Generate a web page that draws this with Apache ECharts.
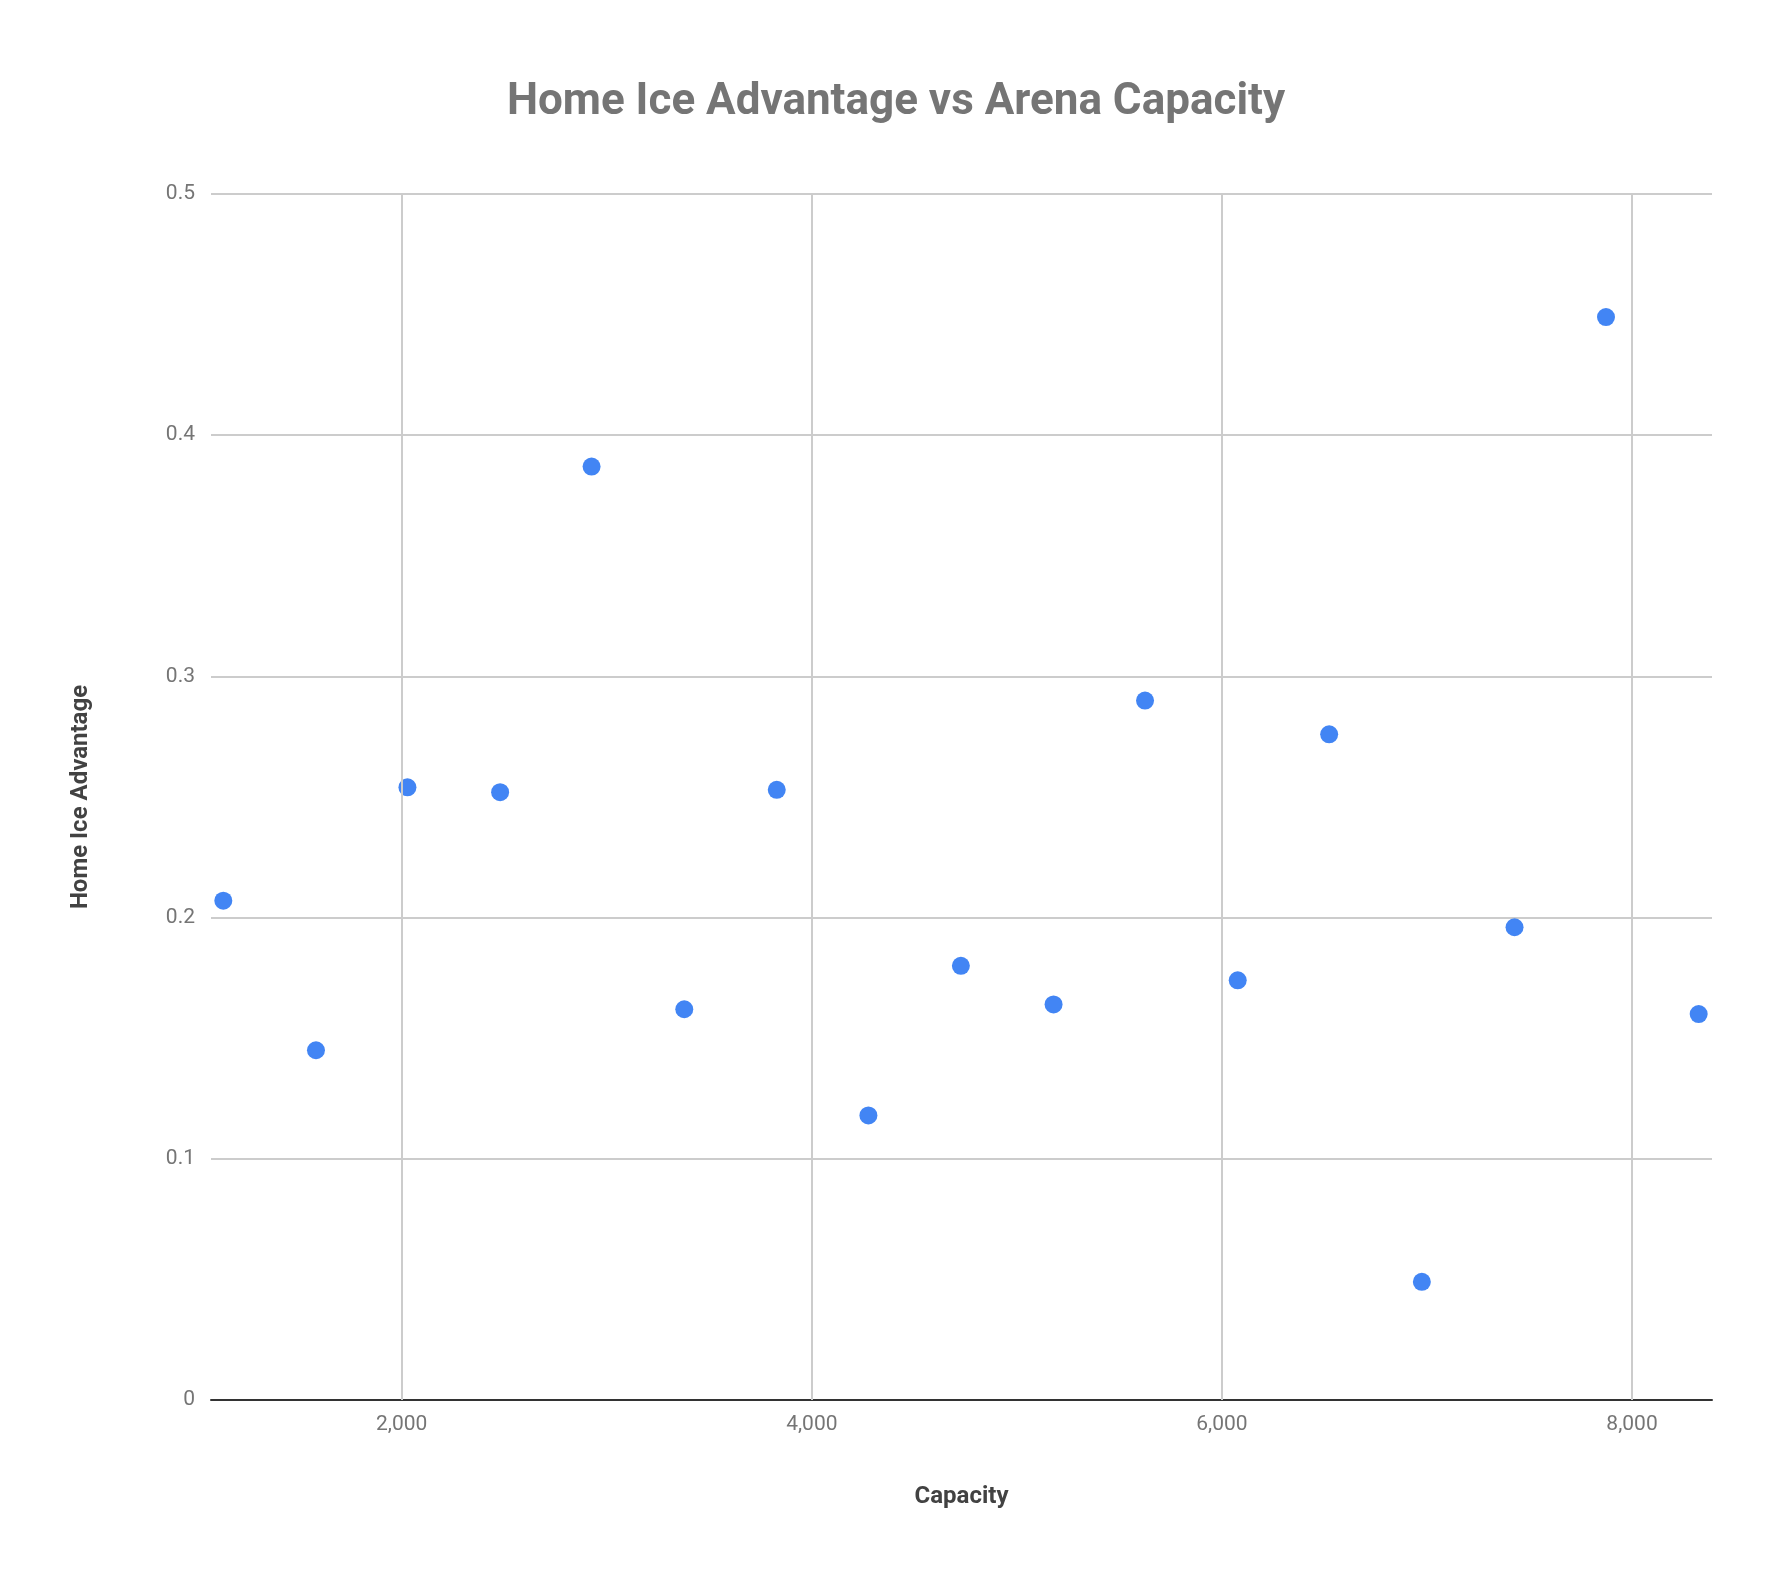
<!DOCTYPE html>
<html>
<head>
<meta charset="utf-8">
<script src="https://cdn.jsdelivr.net/npm/echarts@6/dist/echarts.min.js"></script>
<style>html,body{margin:0;background:#fff}#chart{width:1792px;height:1592px}</style>
</head>
<body>
<div id="chart"></div>
<script>
var capacity = [1130, 1582, 2028, 2480, 2926, 3378, 3829, 4276, 4727, 5179, 5625, 6077, 6523, 6975, 7427, 7873, 8325];
var advantage = [0.207, 0.145, 0.254, 0.252, 0.387, 0.162, 0.253, 0.118, 0.180, 0.164, 0.290, 0.174, 0.276, 0.049, 0.196, 0.449, 0.160];

var points = capacity.map(function (c, i) { return [c, advantage[i]]; });
var myChart = echarts.init(document.getElementById('chart'));
myChart.setOption({
	textStyle : { fontFamily : 'Roboto' },
	title : {
		text : 'Home Ice Advantage vs Arena Capacity',
		left : 'center',
		top : 76,
		textStyle : { fontSize : 44, fontWeight : 'bold', color : '#757575' }
	},
	grid : { left : 211, right : 80, top : 194, bottom : 192 },
	xAxis : {
		type : 'value',
		min : 1070,
		max : 8390,
		name : 'Capacity',
		nameLocation : 'middle',
		nameGap : 85,
		nameTextStyle : { fontSize : 24, fontWeight : 'bold', color : '#424242' },
		axisLine : { lineStyle : { color : '#333', width : 2 } },
		axisTick : { show : false },
		axisLabel : {
			fontSize : 21, color : '#757575', margin : 14,
			customValues : [2000, 4000, 6000, 8000]
		},
		splitLine : { show : false }
	},
	yAxis : {
		type : 'value',
		min : 0,
		max : 0.5,
		interval : 0.1,
		name : 'Home Ice Advantage',
		nameLocation : 'middle',
		nameGap : 118,
		nameTextStyle : { fontSize : 24, fontWeight : 'bold', color : '#424242' },
		axisLine : { show : false },
		axisTick : { show : false },
		axisLabel : { fontSize : 21, color : '#757575', margin : 16 },
		splitLine : { lineStyle : { color : '#cccccc', width : 2 } }
	},
	series : [ {
		type : 'scatter',
		data : points,
		symbolSize : 18,
		itemStyle : { color : '#4285f4', opacity : 1 }
	}, {
		// vertical gridlines at the labelled capacities
		type : 'line',
		data : [],
		markLine : {
			silent : true,
			symbol : 'none',
			label : { show : false },
			lineStyle : { color : '#cccccc', width : 2, type : 'solid' },
			data : [ { xAxis : 2000 }, { xAxis : 4000 }, { xAxis : 6000 }, { xAxis : 8000 } ]
		}
	} ]
});
</script>
</body>
</html>
